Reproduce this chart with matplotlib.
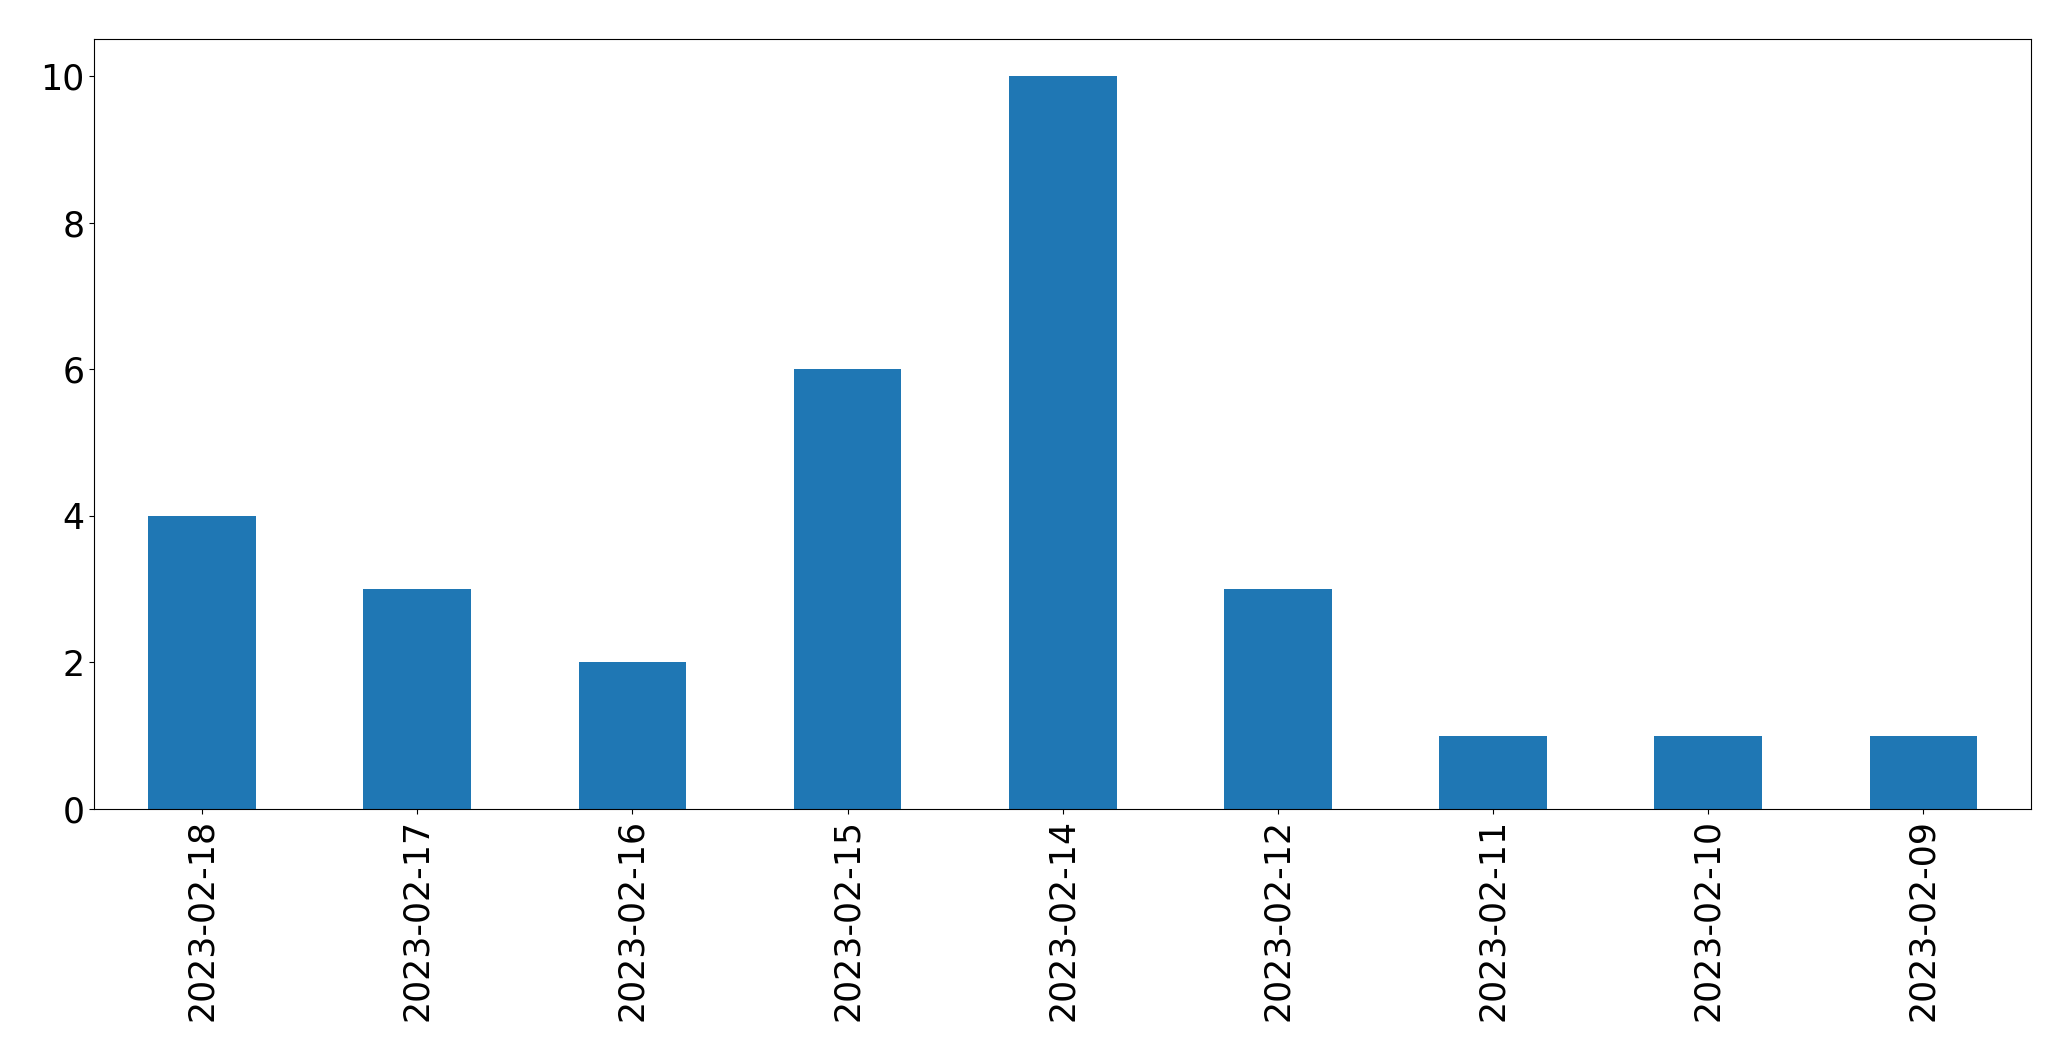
import matplotlib
matplotlib.use("Agg")
import matplotlib.pyplot as plt

dates = ['2023-02-18', '2023-02-17', '2023-02-16', '2023-02-15', '2023-02-14',
         '2023-02-12', '2023-02-11', '2023-02-10', '2023-02-09']
counts = [4, 3, 2, 6, 10, 3, 1, 1, 1]

fig, ax = plt.subplots(figsize=(20.71, 10.61), dpi=100)
fig.subplots_adjust(left=0.0456, right=0.9807, top=0.9628, bottom=0.2375)

x = range(len(dates))
ax.bar(x, counts, width=0.5, color='#1f77b4')
ax.set_xlim(-0.5, len(dates) - 0.5)
ax.set_ylim(0, 10.5)
ax.set_xticks(list(x))
ax.set_xticklabels(dates, rotation=90)
ax.set_yticks([0, 2, 4, 6, 8, 10])
ax.tick_params(labelsize=25)

fig.savefig('out.png', dpi=100)
